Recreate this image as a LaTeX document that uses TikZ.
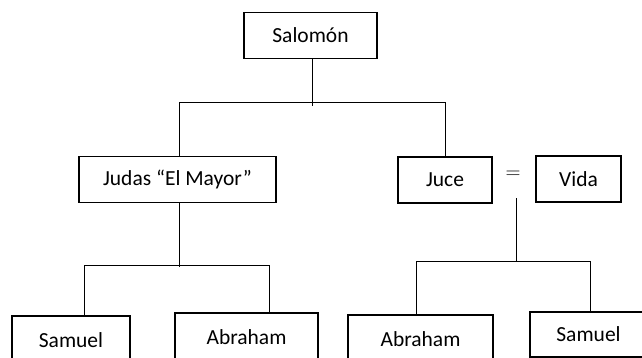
\documentclass[tikz,border=0pt]{standalone}
\usepackage{fontspec}
\setmainfont{Carlito}
\usetikzlibrary{positioning}
\tikzset{persona/.style={draw, line width=1.3pt, inner sep=0pt,
minimum height=46pt, font=\fontsize{21.5}{25}\selectfont},
linea/.style={line width=1pt}}

\begin{document}
\begin{tikzpicture}[x=1pt, y=-1pt, linea]
	\useasboundingbox (0,0) rectangle (642,358);
	\clip (0,0) rectangle (642,358);
	% generaciones
	\node[persona, minimum width=133pt] (salomon) at (310.5,35.5) {Salomón};
	\node[persona, minimum width=197pt] (judas) at (177.5,179.5) {Judas “El Mayor”};
	\node[persona, minimum width=94pt] (juce) at (445,180) {Juce};
	\node[persona, minimum width=85pt] (vida) at (578.5,179) {Vida};
	\node[font=\fontsize{20}{24}\selectfont, inner sep=0pt] (igual) at (513,175) {$=$};
	\node[persona, minimum width=118pt, minimum height=48pt] (samuelA) at (71,340) {Samuel};
	\node[persona, minimum width=143pt, minimum height=48pt] (abrahamA) at (246.5,337) {Abraham};
	\node[persona, minimum width=145pt, minimum height=48pt] (abrahamB) at (420.5,339) {Abraham};
	\node[persona, minimum width=117pt, minimum height=45pt] (samuelB) at (588.5,334.5) {Samuel};
	% barras
	\coordinate (s1) at (312,106);
	\coordinate (s1a) at (179,103);
	\coordinate (s1b) at (445,103);
	\coordinate (j1) at (179,267);
	\coordinate (j1a) at (84,265);
	\coordinate (j1b) at (269,265);
	\coordinate (v0) at (516,198);
	\coordinate (v1) at (516,261);
	\coordinate (v1a) at (416,261);
	\coordinate (v1b) at (590,261);
	\draw (s1 |- salomon.south) -- (s1);
	\draw (s1a |- judas.north) -- (s1a) -- (s1b) -- (s1b |- juce.north);
	\draw (j1 |- judas.south) -- (j1);
	\draw (j1a |- samuelA.north) -- (j1a) -- (j1b) -- (j1b |- abrahamA.north);
	\draw (v0) -- (v1);
	\draw (v1a |- abrahamB.north) -- (v1a) -- (v1b) -- (v1b |- samuelB.north);
\end{tikzpicture}
\end{document}
